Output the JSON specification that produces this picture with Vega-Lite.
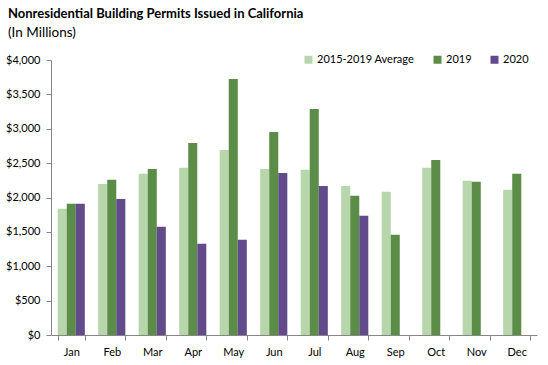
{
  "$schema": "https://vega.github.io/schema/vega-lite/v6.json",
  "width": 486,
  "height": 275,
  "autosize": {"type": "none"},
  "padding": {"left": 51, "top": 60, "right": 11, "bottom": 30},
  "background": "white",
  "title": {
    "text": "Nonresidential Building Permits Issued in California",
    "subtitle": "(In Millions)",
    "anchor": "start",
    "frame": "group",
    "orient": "top",
    "dx": -43,
    "offset": 15,
    "font": "Lato",
    "fontSize": 13,
    "fontWeight": "bold",
    "color": "#000000",
    "subtitleFont": "Lato",
    "subtitleFontSize": 13.5,
    "subtitleColor": "#000000",
    "subtitlePadding": 5
  },
  "config": {
    "view": {"stroke": null},
    "font": "Lato",
    "axis": {"grid": false, "domainColor": "#868686", "tickColor": "#868686", "labelColor": "#000000", "labelFont": "Lato", "labelFontSize": 11, "title": null}
  },
  "data": {
    "values": [
      {"month": "Jan", "series": "2015-2019 Average", "value": 1835},
      {"month": "Jan", "series": "2019", "value": 1908},
      {"month": "Jan", "series": "2020", "value": 1908},
      {"month": "Feb", "series": "2015-2019 Average", "value": 2198},
      {"month": "Feb", "series": "2019", "value": 2257},
      {"month": "Feb", "series": "2020", "value": 1980},
      {"month": "Mar", "series": "2015-2019 Average", "value": 2344},
      {"month": "Mar", "series": "2019", "value": 2416},
      {"month": "Mar", "series": "2020", "value": 1574},
      {"month": "Apr", "series": "2015-2019 Average", "value": 2431},
      {"month": "Apr", "series": "2019", "value": 2794},
      {"month": "Apr", "series": "2020", "value": 1327},
      {"month": "May", "series": "2015-2019 Average", "value": 2692},
      {"month": "May", "series": "2019", "value": 3724},
      {"month": "May", "series": "2020", "value": 1385},
      {"month": "Jun", "series": "2015-2019 Average", "value": 2416},
      {"month": "Jun", "series": "2019", "value": 2954},
      {"month": "Jun", "series": "2020", "value": 2358},
      {"month": "Jul", "series": "2015-2019 Average", "value": 2402},
      {"month": "Jul", "series": "2019", "value": 3288},
      {"month": "Jul", "series": "2020", "value": 2169},
      {"month": "Aug", "series": "2015-2019 Average", "value": 2169},
      {"month": "Aug", "series": "2019", "value": 2024},
      {"month": "Aug", "series": "2020", "value": 1733},
      {"month": "Sep", "series": "2015-2019 Average", "value": 2082},
      {"month": "Sep", "series": "2019", "value": 1457},
      {"month": "Oct", "series": "2015-2019 Average", "value": 2431},
      {"month": "Oct", "series": "2019", "value": 2547},
      {"month": "Nov", "series": "2015-2019 Average", "value": 2242},
      {"month": "Nov", "series": "2019", "value": 2228},
      {"month": "Dec", "series": "2015-2019 Average", "value": 2111},
      {"month": "Dec", "series": "2019", "value": 2344}
    ]
  },
  "mark": {"type": "bar"},
  "encoding": {
    "x": {
      "field": "month",
      "type": "nominal",
      "sort": ["Jan","Feb","Mar","Apr","May","Jun","Jul","Aug","Sep","Oct","Nov","Dec"],
      "scale": {"paddingInner": 0.33, "paddingOuter": 0.165},
      "axis": {"labelAngle": 0, "tickBand": "extent", "tickSize": 5, "labelPadding": 6, "domainWidth": 1}
    },
    "xOffset": {
      "field": "series",
      "type": "nominal",
      "scale": {"domain": ["2015-2019 Average", "2019", "2020"], "paddingInner": 0, "paddingOuter": 0}
    },
    "y": {
      "field": "value",
      "type": "quantitative",
      "scale": {"domain": [0, 4000], "nice": false},
      "axis": {"values": [0,500,1000,1500,2000,2500,3000,3500,4000], "format": "$,.0f", "tickSize": 5, "labelPadding": 6}
    },
    "color": {
      "field": "series",
      "type": "nominal",
      "scale": {"domain": ["2015-2019 Average", "2019", "2020"], "range": ["#b7d6ab", "#5b8c48", "#614b8b"]},
      "legend": {
        "title": null,
        "orient": "none",
        "legendX": 252,
        "legendY": -6,
        "direction": "horizontal",
        "symbolType": "square",
        "symbolSize": 64,
        "symbolStrokeWidth": 0,
        "labelFont": "Lato",
        "labelFontSize": 11,
        "labelColor": "#000000",
        "labelOffset": 3,
        "columnPadding": 17
      }
    }
  }
}
